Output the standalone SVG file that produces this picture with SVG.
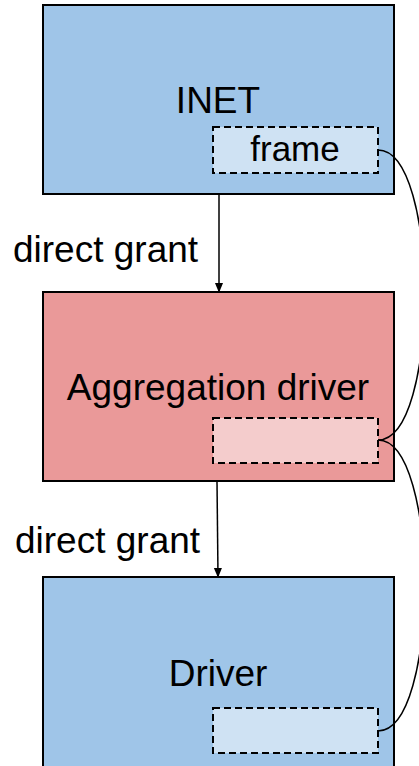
<svg xmlns="http://www.w3.org/2000/svg" width="419" height="766" viewBox="0 0 419 766">
<style>
.box{stroke:#000;stroke-width:2}
.blue{fill:#9fc5e8}
.red{fill:#ea9999}
.inner{stroke:#000;stroke-width:2;stroke-dasharray:7,4}
.lb{fill:#cfe2f3}
.lr{fill:#f4cccc}
text{font-family:"Liberation Sans",Arial,sans-serif;fill:#000}
.big{font-size:37px;text-anchor:middle}
.lab{font-size:37px}
.conn{fill:none;stroke:#000;stroke-width:1.5}
</style>
<defs>
<marker id="arr" markerWidth="10" markerHeight="12" refX="10" refY="5" orient="auto" markerUnits="userSpaceOnUse" viewBox="0 0 12 10">
<path d="M0,0 L12,5 L0,10 z" fill="#000"/>
</marker>
</defs>
<g id="inet">
<rect class="box blue" x="43" y="5" width="351" height="189"/>
<text class="big" x="218" y="113">INET</text>
<rect class="inner lb" x="213" y="127" width="165" height="46"/>
<text class="big" x="295" y="161" style="font-size:35px">frame</text>
</g>
<g id="aggregation">
<rect class="box red" x="43" y="292" width="351" height="189"/>
<text class="big" x="218" y="400">Aggregation driver</text>
<rect class="inner lr" x="213" y="418" width="165" height="45"/>
</g>
<g id="driver">
<rect class="box blue" x="43" y="577" width="351" height="200"/>
<text class="big" x="218" y="686">Driver</text>
<rect class="inner lb" x="213" y="708" width="165" height="45"/>
</g>
<g id="connectors">
<line class="conn" x1="219" y1="194" x2="219" y2="291" marker-end="url(#arr)"/>
<line class="conn" x1="217" y1="481" x2="218" y2="576" marker-end="url(#arr)"/>
<path class="conn" d="M378,150 C440,150 440,440 378,440"/>
<path class="conn" d="M378,440 C440,440 440,731 378,731"/>
<text class="lab" x="13" y="262">direct grant</text>
<text class="lab" x="15" y="553">direct grant</text>
</g>
</svg>
